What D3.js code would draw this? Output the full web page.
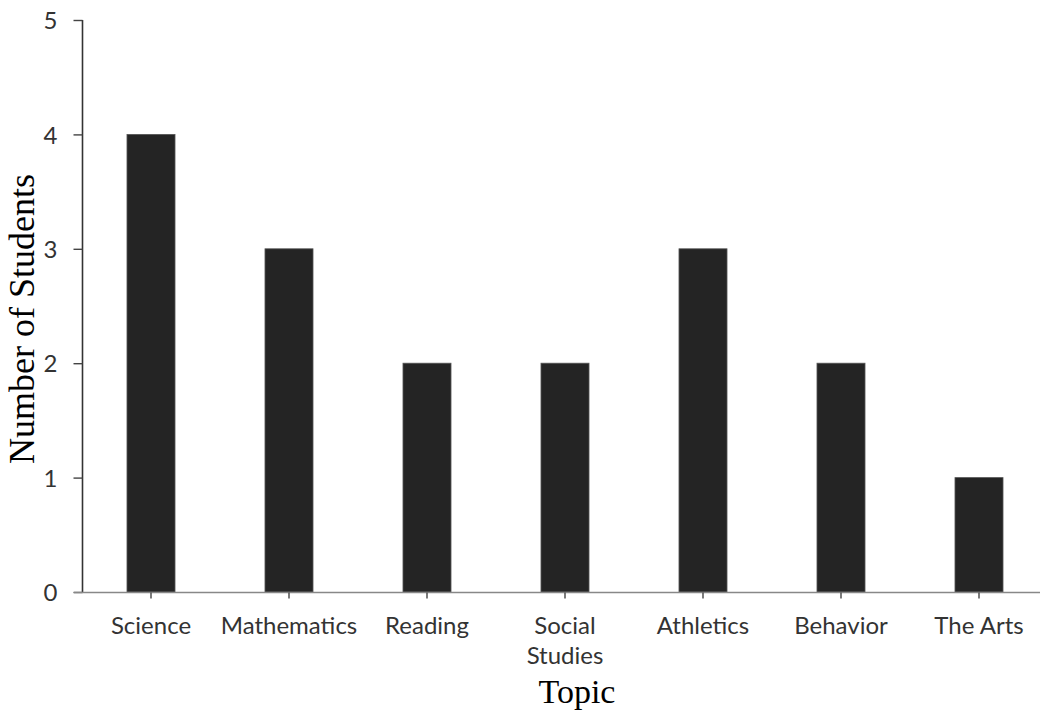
<!DOCTYPE html>
<html><head><meta charset="utf-8">
<script src="https://cdn.jsdelivr.net/npm/d3@7"></script>
<style>body{margin:0;background:#fff}svg{display:block}</style>
</head><body>
<svg id="c" width="1040" height="713"></svg>
<script>
const categories = ["Science","Mathematics","Reading","Social Studies","Athletics","Behavior","The Arts"];
const labelLines = [["Science"],["Mathematics"],["Reading"],["Social","Studies"],["Athletics"],["Behavior"],["The Arts"]];
const values = [4,3,2,2,3,2,1];
const yTicks = [0,1,2,3,4,5];

const svg = d3.select("#c");
const x = d3.scaleBand().domain(categories).range([82,1048]).paddingInner(0.652).paddingOuter(0.326);
const y = d3.scaleLinear().domain([0,5]).range([592,20]);

svg.append("defs").append("clipPath").attr("id","clip").append("rect").attr("x",0).attr("y",0).attr("width",1040).attr("height",665);

// bars
svg.append("g").selectAll("rect").data(values).join("rect")
  .attr("x",(d,i)=>x(categories[i]))
  .attr("y",d=>y(d))
  .attr("width",x.bandwidth())
  .attr("height",d=>y(0)-y(d))
  .attr("fill","#242424")
  .attr("stroke","#555").attr("stroke-width",0.8);

// y axis
const yAxis = svg.append("g").attr("transform","translate(82.5,0)")
  .call(d3.axisLeft(y).tickValues(yTicks).tickFormat(d3.format("d")).tickSize(9).tickPadding(16));
yAxis.select(".domain").attr("stroke","#333").attr("stroke-width",1.6).attr("d","M0,20V592");
yAxis.selectAll(".tick line").attr("stroke","#444").attr("stroke-width",1.4);
yAxis.selectAll(".tick text").attr("font-family","Lato, sans-serif").attr("font-size",24).attr("fill","#333").attr("dy","0.36em");

// x axis
const xAxis = svg.append("g").attr("transform","translate(0,592.5)")
  .call(d3.axisBottom(x).tickSize(6).tickFormat(""));
xAxis.select(".domain").attr("stroke","#888").attr("stroke-width",1.6).attr("d","M74,0H1040");
xAxis.selectAll(".tick line").attr("stroke","#444").attr("stroke-width",1.4);

// x labels
const lab = svg.append("g").attr("clip-path","url(#clip)");
labelLines.forEach((lines,i)=>{
  const cx = x(categories[i])+x.bandwidth()/2;
  const t = lab.append("text").attr("x",cx).attr("y",634)
    .attr("text-anchor","middle").attr("font-family","Lato, sans-serif").attr("font-size",24).attr("fill","#333");
  lines.forEach((l,j)=>t.append("tspan").attr("x",cx).attr("dy",j===0?0:30).text(l));
});

// axis titles
svg.append("text").attr("x",577).attr("y",703).attr("text-anchor","middle")
  .attr("font-family","'Liberation Serif', 'Times New Roman', serif").attr("font-size",34).attr("fill","#000").text("Topic");
svg.append("text").attr("transform","translate(34,319) rotate(-90)").attr("text-anchor","middle")
  .attr("font-family","'Liberation Serif', 'Times New Roman', serif").attr("font-size",36).attr("fill","#000").text("Number of Students");
</script>
</body></html>
